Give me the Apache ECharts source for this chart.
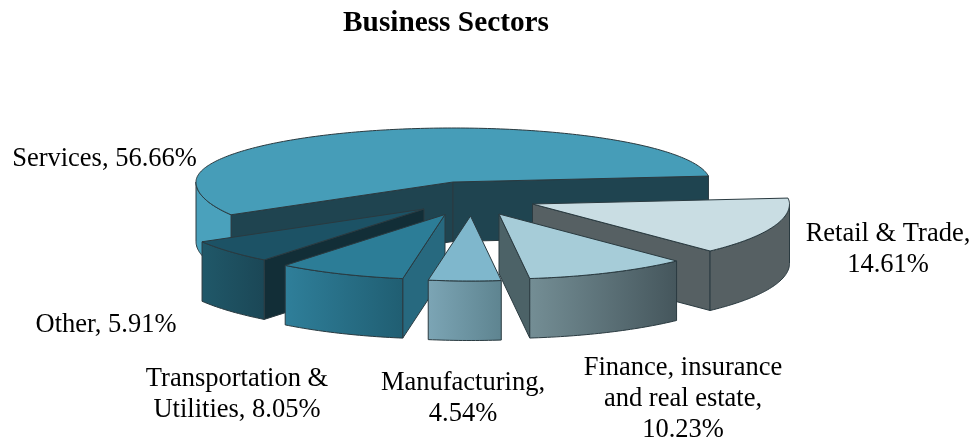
<!DOCTYPE html>
<html lang="en">
<head>
  <meta charset="UTF-8">
  <title>Business Sectors</title>
  <script src="https://cdn.jsdelivr.net/npm/echarts@6/dist/echarts.min.js"></script>
  <style>html,body{margin:0;padding:0;background:#fff}</style>
</head>
<body>
<div id="main" style="height:440px;width:974px;"></div>
<script>
  // clockwise from the right hand side of the pie
  var categories = ['Retail & Trade', 'Finance, insurance and real estate', 'Manufacturing', 'Transportation & Utilities', 'Other', 'Services'];
  var shares = [14.61, 10.23, 4.54, 8.05, 5.91, 56.66];
  var labelTexts = ['Retail & Trade,\n14.61%', 'Finance, insurance\nand real estate,\n10.23%', 'Manufacturing,\n4.54%', 'Transportation &\nUtilities, 8.05%', 'Other, 5.91%', 'Services, 56.66%'];

  // look of the pie
  var startAngle = -6.3;
  var rx = 257, ryFront = 65, ryBack = 54, depth = 59.5;
  var centreX = 470, centreY = 199;
  var shiftX = [62.5, 29, 0.5, -25, -46, -17];
  var shiftY = [5, 15, 17, 15.5, 10, -17];
  var zOrder = [2, 5, 6, 4, 3, 1];
  var labelX = [888, 683, 463, 237, 106, 104.5];
  var labelY = [250, 399, 399, 395, 325, 159];
  var topColors = ['#c9dde3', '#a6ccd8', '#7fb7cc', '#2c7d97', '#1c5265', '#469db8'];
  var faceColors = ['#566063', '#4c6267', '#5f8592', '#27697f', '#122e37', '#1f4450'];
  var outerLeft = ['#566063', '#748e95', '#7ca5b5', '#2f7f9a', '#205869', '#4aa1bc'];
  var outerRight = ['#566063', '#45565c', '#5e8490', '#205e72', '#1b4756', '#4aa1bc'];
  var edge = '#2a3a40';

  function point(cx, cy, deg, drop) {
    var t = deg * Math.PI / 180;
    var s = Math.sin(t);
    return [cx + rx * Math.cos(t), cy + (s > 0 ? ryFront : ryBack) * s + (drop || 0)];
  }

  function polygon(points, fill, z2) {
    return {
      type: 'polygon',
      shape: { points: points },
      style: { fill: fill, stroke: edge, lineWidth: 1, lineJoin: 'round' },
      z2: z2
    };
  }

  function arc(cx, cy, from, to, drop) {
    var pts = [];
    var n = Math.max(2, Math.ceil(Math.abs(to - from)));
    for (var i = 0; i <= n; i++) {
      pts.push(point(cx, cy, from + (to - from) * i / n, drop));
    }
    return pts;
  }

  // radial wall, from the apex out to the rim
  function wall(cx, cy, deg, fill, z2) {
    var rim = point(cx, cy, deg);
    return polygon([[cx, cy], rim, [rim[0], rim[1] + depth], [cx, cy + depth]], fill, z2);
  }

  var sum = 0;
  var angleFrom = [];
  for (var i = 0; i < shares.length; i++) {
    angleFrom.push(startAngle + sum * 3.6);
    sum += shares[i];
  }

  function renderSlice(params, api) {
    var i = params.dataIndex;
    var from = angleFrom[i];
    var to = from + api.value(0) * 3.6;
    var cx = centreX + shiftX[i];
    var cy = centreY + shiftY[i];
    var z = zOrder[i] * 10;
    var kids = [];

    // walls facing the viewer only
    if (Math.cos(from * Math.PI / 180) < 0) kids.push(wall(cx, cy, from, faceColors[i], z));
    if (Math.cos(to * Math.PI / 180) > 0) kids.push(wall(cx, cy, to, faceColors[i], z));

    // rim, front half of the ellipse only, gets darker to the right
    var a = Math.max(from, 0), b = Math.min(to, 180);
    if (b > a) {
      var rimPts = arc(cx, cy, a, b).concat(arc(cx, cy, b, a, depth));
      kids.push(polygon(rimPts, new echarts.graphic.LinearGradient(0, 0, 1, 0, [
        { offset: 0, color: outerLeft[i] },
        { offset: 1, color: outerRight[i] }
      ]), z + 1));
    }

    kids.push(polygon([[cx, cy]].concat(arc(cx, cy, from, to)), topColors[i], z + 2));

    kids.push({
      type: 'text',
      x: labelX[i],
      y: labelY[i],
      z2: 100,
      style: {
        text: labelTexts[i],
        fill: '#000',
        font: '26.5px "Liberation Serif"',
        lineHeight: 31,
        align: 'center',
        verticalAlign: 'middle'
      }
    });

    return { type: 'group', children: kids };
  }

  var myChart = echarts.init(document.getElementById('main'));

  var option = {
    animation: false,
    backgroundColor: '#fff',
    title: {
      text: 'Business Sectors',
      left: 441,
      top: 4,
      textAlign: 'center',
      textStyle: { fontFamily: 'Liberation Serif', fontSize: 29.3, fontWeight: 'bold', color: '#000' }
    },
    series: [
      {
        type: 'custom',
        coordinateSystem: 'none',
        renderItem: renderSlice,
        data: shares.map(function (v, i) { return { name: categories[i], value: [v] }; })
      }
    ]
  };

  myChart.setOption(option);
</script>
</body>
</html>
